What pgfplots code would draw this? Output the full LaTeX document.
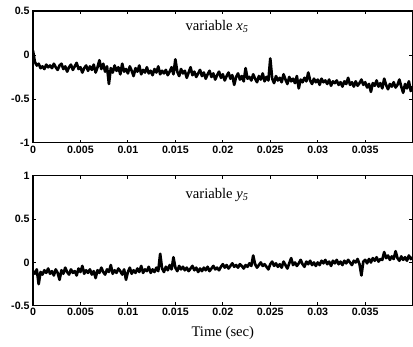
\documentclass[border=0pt]{standalone}
\usepackage{pgfplots}
\pgfplotsset{compat=1.18}
\usepackage{pgfplotstable}
\usepackage{fontspec}
\setmainfont{Liberation Serif}
\newfontfamily\sansf{Liberation Sans}

\pgfplotstableread[row sep=\\]{
y\\
0.05\\ -0.08\\ -0.12\\ -0.1\\ -0.15\\
-0.13\\ -0.16\\ -0.11\\ -0.14\\ -0.12\\
-0.15\\ -0.1\\ -0.14\\ -0.17\\ -0.12\\
-0.1\\ -0.16\\ -0.13\\ -0.19\\ -0.14\\
-0.11\\ -0.17\\ -0.13\\ -0.09\\ -0.16\\
-0.14\\ -0.2\\ -0.15\\ -0.12\\ -0.18\\
-0.13\\ -0.17\\ -0.11\\ -0.2\\ -0.14\\
-0.06\\ -0.16\\ -0.1\\ -0.19\\ -0.13\\
-0.33\\ -0.15\\ -0.2\\ -0.12\\ -0.18\\
-0.14\\ -0.22\\ -0.1\\ -0.19\\ -0.16\\
-0.21\\ -0.13\\ -0.18\\ -0.24\\ -0.15\\
-0.19\\ -0.12\\ -0.22\\ -0.17\\ -0.2\\
-0.14\\ -0.21\\ -0.18\\ -0.23\\ -0.16\\
-0.2\\ -0.13\\ -0.22\\ -0.18\\ -0.21\\
-0.17\\ -0.23\\ -0.19\\ -0.14\\ -0.22\\
-0.05\\ -0.19\\ -0.24\\ -0.16\\ -0.21\\
-0.18\\ -0.26\\ -0.2\\ -0.14\\ -0.23\\
-0.19\\ -0.25\\ -0.21\\ -0.17\\ -0.24\\
-0.2\\ -0.27\\ -0.22\\ -0.18\\ -0.25\\
-0.21\\ -0.28\\ -0.23\\ -0.19\\ -0.26\\
-0.22\\ -0.29\\ -0.24\\ -0.2\\ -0.27\\
-0.23\\ -0.34\\ -0.25\\ -0.21\\ -0.28\\
-0.24\\ -0.3\\ -0.15\\ -0.27\\ -0.25\\
-0.29\\ -0.22\\ -0.27\\ -0.31\\ -0.24\\
-0.28\\ -0.21\\ -0.3\\ -0.25\\ -0.29\\
-0.04\\ -0.27\\ -0.32\\ -0.24\\ -0.29\\
-0.26\\ -0.31\\ -0.22\\ -0.28\\ -0.33\\
-0.25\\ -0.3\\ -0.27\\ -0.32\\ -0.24\\
-0.38\\ -0.28\\ -0.31\\ -0.26\\ -0.3\\
-0.2\\ -0.29\\ -0.33\\ -0.27\\ -0.31\\
-0.28\\ -0.34\\ -0.27\\ -0.31\\ -0.29\\
-0.33\\ -0.28\\ -0.35\\ -0.3\\ -0.32\\
-0.29\\ -0.34\\ -0.31\\ -0.36\\ -0.3\\
-0.33\\ -0.26\\ -0.34\\ -0.31\\ -0.36\\
-0.3\\ -0.35\\ -0.32\\ -0.28\\ -0.34\\
-0.31\\ -0.37\\ -0.33\\ -0.42\\ -0.32\\
-0.35\\ -0.29\\ -0.36\\ -0.32\\ -0.38\\
-0.27\\ -0.34\\ -0.39\\ -0.33\\ -0.36\\
-0.31\\ -0.37\\ -0.34\\ -0.28\\ -0.36\\
-0.43\\ -0.33\\ -0.38\\ -0.3\\ -0.41\\
-0.36\\
}\xdata

\pgfplotstableread[row sep=\\]{
y\\
-0.1\\ -0.13\\ -0.08\\ -0.25\\ -0.11\\
-0.14\\ -0.09\\ -0.12\\ -0.07\\ -0.13\\
-0.1\\ -0.15\\ -0.08\\ -0.12\\ -0.2\\
-0.09\\ -0.13\\ -0.06\\ -0.11\\ -0.14\\
-0.08\\ -0.12\\ -0.1\\ -0.15\\ -0.07\\
-0.11\\ -0.04\\ -0.13\\ -0.09\\ -0.12\\
-0.08\\ -0.14\\ -0.1\\ -0.18\\ -0.09\\
-0.12\\ -0.06\\ -0.11\\ -0.14\\ -0.08\\
-0.11\\ -0.03\\ -0.13\\ -0.09\\ -0.12\\
-0.07\\ -0.1\\ -0.14\\ -0.08\\ -0.2\\
-0.11\\ -0.06\\ -0.13\\ -0.09\\ -0.12\\
-0.07\\ -0.11\\ -0.04\\ -0.12\\ -0.08\\
-0.1\\ -0.05\\ -0.12\\ -0.08\\ -0.11\\
-0.06\\ -0.1\\ 0.1\\ -0.07\\ -0.11\\
-0.05\\ -0.09\\ -0.03\\ -0.08\\ 0.06\\
-0.06\\ -0.1\\ -0.04\\ -0.08\\ -0.05\\
-0.09\\ -0.06\\ -0.1\\ -0.07\\ -0.04\\
-0.09\\ -0.06\\ -0.11\\ -0.07\\ -0.1\\
-0.06\\ -0.09\\ -0.05\\ -0.1\\ -0.07\\
-0.04\\ -0.08\\ -0.06\\ -0.09\\ -0.05\\
-0.02\\ -0.06\\ -0.03\\ -0.07\\ -0.04\\
-0.01\\ -0.05\\ -0.03\\ -0.06\\ -0.02\\
-0.04\\ -0.07\\ -0.03\\ -0.05\\ -0.01\\
-0.04\\ 0.08\\ -0.02\\ -0.06\\ -0.03\\
0.0\\ -0.04\\ -0.02\\ -0.05\\ -0.08\\
-0.02\\ 0.01\\ -0.04\\ -0.01\\ -0.05\\
-0.02\\ -0.06\\ 0.01\\ -0.03\\ -0.07\\
-0.01\\ 0.05\\ -0.03\\ 0.0\\ -0.04\\
-0.01\\ 0.03\\ -0.02\\ -0.05\\ 0.01\\
-0.02\\ 0.02\\ -0.03\\ 0.0\\ -0.04\\
0.0\\ -0.03\\ 0.02\\ -0.01\\ 0.03\\
-0.02\\ 0.01\\ -0.04\\ 0.02\\ -0.01\\
0.03\\ -0.02\\ 0.01\\ -0.03\\ 0.02\\
-0.01\\ 0.03\\ 0.0\\ -0.03\\ 0.02\\
0.0\\ 0.04\\ -0.02\\ -0.15\\ 0.01\\
0.03\\ -0.01\\ 0.04\\ 0.0\\ 0.05\\
0.02\\ 0.06\\ 0.01\\ 0.04\\ 0.03\\
0.12\\ 0.05\\ 0.08\\ 0.03\\ 0.07\\
0.04\\ 0.13\\ 0.05\\ 0.02\\ 0.07\\
0.03\\ 0.06\\ 0.02\\ 0.08\\ 0.04\\
0.06\\
}\ydata

\begin{document}
\begin{tikzpicture}
\pgfplotsset{
  every axis/.style={
    scale only axis, width=285pt,
    xmin=0, xmax=0.04,
    scaled x ticks=false, scaled y ticks=false,
    xtick={0,0.005,0.01,0.015,0.02,0.025,0.03,0.035},
    xticklabels={0,0.005,0.01,0.015,0.02,0.025,0.03,0.035},
    tick align=inside, major tick length=2.5pt,
    tick style={line width=0.6pt, black},
    axis line style={line width=0.8pt},
    ticklabel style={font=\sansf\bfseries\fontsize{8}{9}\selectfont},
    xticklabel style={yshift=1.5pt},
    yticklabel style={xshift=1pt},
    anchor=south west,
  }
}
\begin{axis}[at={(24.75pt,153pt)}, height=99pt,
  ymin=-1, ymax=0.5,
  ytick={-1,-0.5,0,0.5}, yticklabels={-1,-0.5,0,0.5}]
\addplot[black, line width=2pt, line join=round] table[x expr=\coordindex*0.0002, y=y] {\xdata};
\node[font=\fontsize{11}{12}\selectfont] at (rel axis cs:0.485,0.88) {variable \textit{x}\textsubscript{\textit{5}}};
\end{axis}
\begin{axis}[at={(24.75pt,30.75pt)}, height=97.5pt,
  ymin=-0.5, ymax=1,
  ytick={-0.5,0,0.5,1}, yticklabels={-0.5,0,0.5,1},
  xlabel={Time (sec)},
  xlabel style={font=\fontsize{11}{12}\selectfont, at={(axis description cs:0.5,0)}, anchor=center, yshift=-20.25pt}]
\addplot[black, line width=2pt, line join=round] table[x expr=\coordindex*0.0002, y=y] {\ydata};
\node[font=\fontsize{11}{12}\selectfont] at (rel axis cs:0.485,0.855) {variable \textit{y}\textsubscript{\textit{5}}};
\end{axis}
\pgfresetboundingbox
\useasboundingbox (0,0) rectangle (310pt,260.25pt);
\end{tikzpicture}
\end{document}
